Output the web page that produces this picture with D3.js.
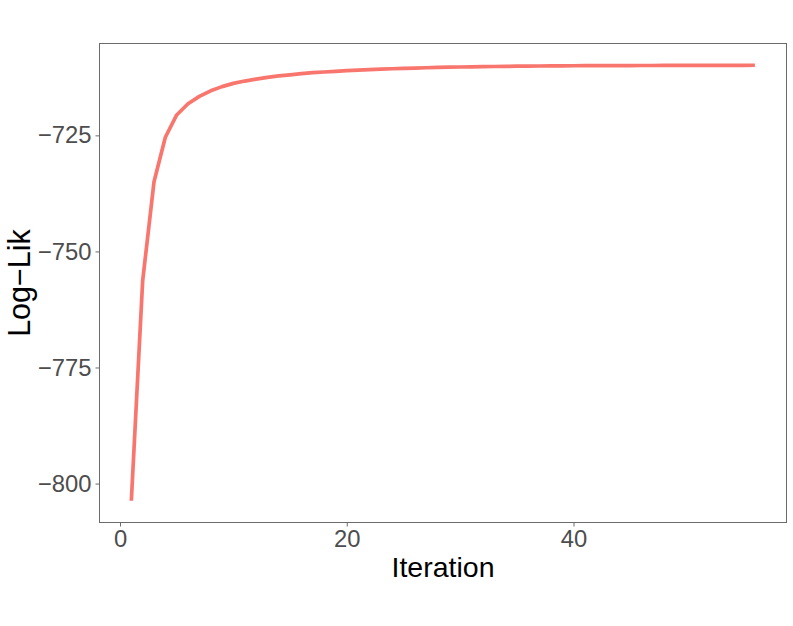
<!DOCTYPE html>
<html>
<head>
<meta charset="utf-8">
<script src="https://cdn.jsdelivr.net/npm/d3@7"></script>
<style>
  body { margin: 0; background: #fff; }
  svg { display: block; font-family: "Liberation Sans", Arial, Helvetica, sans-serif; }
</style>
</head>
<body>
<svg id="chart" width="793" height="626"></svg>
<script>
const iterations = d3.range(1, 57);
const logLik = [
  -803.7, -756.3, -735.0, -725.4, -720.6, -718.2, -716.6, -715.4, -714.5, -713.8,
  -713.3, -712.9, -712.5, -712.2, -711.95, -711.7, -711.5, -711.35, -711.2, -711.05,
  -710.95, -710.85, -710.75, -710.65, -710.57, -710.5, -710.43, -710.37, -710.32, -710.27,
  -710.23, -710.19, -710.16, -710.13, -710.1, -710.08, -710.06, -710.04, -710.02, -710.0,
  -709.99, -709.98, -709.97, -709.96, -709.955, -709.95, -709.945, -709.94, -709.935, -709.93,
  -709.925, -709.92, -709.915, -709.91, -709.905, -709.9
];
const xTicks = [0, 20, 40];
const yTicks = [-800, -775, -750, -725];
const xTitle = "Iteration";
const yTitle = "Log\u2212Lik";

const svg = d3.select("#chart");
const panel = { left: 99.5, right: 786.5, top: 43.5, bottom: 522.5 };

const x = d3.scaleLinear().domain([0, 40]).range([120, 573.5]);
const yMin = d3.min(logLik), yMax = d3.max(logLik);
const pad = (yMax - yMin) * 0.05;
const y = d3.scaleLinear().domain([yMin - pad, yMax + pad]).range([panel.bottom, panel.top]);

// Panel border
svg.append("rect")
  .attr("x", panel.left).attr("y", panel.top)
  .attr("width", panel.right - panel.left).attr("height", panel.bottom - panel.top)
  .attr("fill", "none").attr("stroke", "#6b6b6b").attr("stroke-width", 1);

// Axes
const xAxis = d3.axisBottom(x).tickValues(xTicks).tickSize(4).tickPadding(4).tickFormat(d3.format("d"));
const gx = svg.append("g").attr("transform", `translate(0,${panel.bottom})`).call(xAxis);
gx.select(".domain").remove();
gx.selectAll("line").attr("stroke", "#6b6b6b");
gx.selectAll("text").attr("fill", "#4d4d4d").style("font-size", "23.8px");

const yAxis = d3.axisLeft(y).tickValues(yTicks).tickSize(4).tickPadding(4)
  .tickFormat(d => (d < 0 ? "\u2212" : "") + Math.abs(d));
const gy = svg.append("g").attr("transform", `translate(${panel.left},0)`).call(yAxis);
gy.select(".domain").remove();
gy.selectAll("line").attr("stroke", "#6b6b6b");
gy.selectAll("text").attr("fill", "#4d4d4d").style("font-size", "23.8px");

// Line
const line = d3.line().x((d, i) => x(iterations[i])).y(d => y(d));
svg.append("path")
  .datum(logLik)
  .attr("d", line)
  .attr("fill", "none")
  .attr("stroke", "#F8766D")
  .attr("stroke-width", 3.7)
  .attr("stroke-linejoin", "round");

// Titles
svg.append("text")
  .attr("x", (panel.left + panel.right) / 2).attr("y", 577)
  .attr("text-anchor", "middle").attr("fill", "#000")
  .style("font-size", "28.5px").text(xTitle);

svg.append("text")
  .attr("transform", `translate(30,${(panel.top + panel.bottom) / 2}) rotate(-90)`)
  .attr("text-anchor", "middle").attr("fill", "#000")
  .style("font-size", "30.5px").text(yTitle);
</script>
</body>
</html>
